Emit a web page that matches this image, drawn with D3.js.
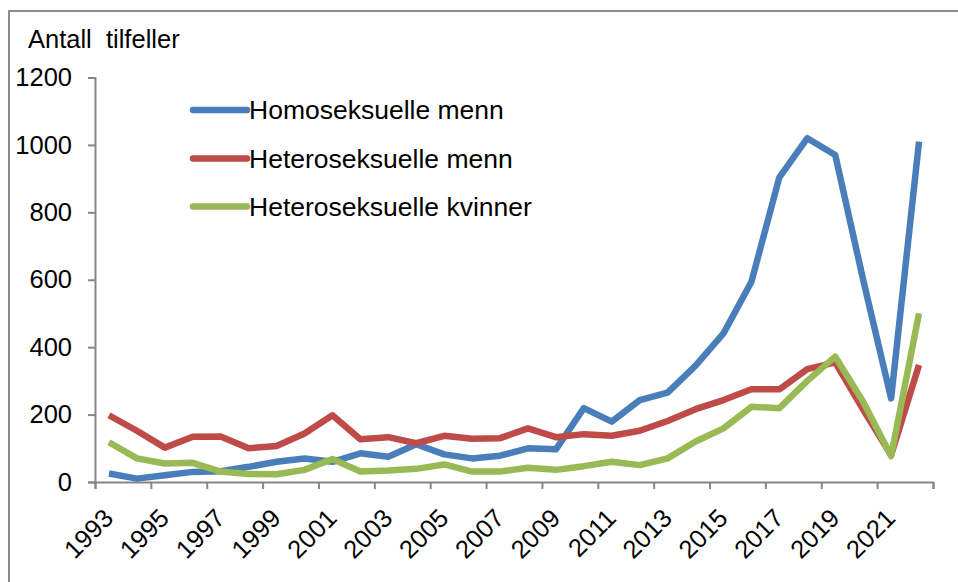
<!DOCTYPE html>
<html><head><meta charset="utf-8">
<script src="https://cdn.jsdelivr.net/npm/d3@7"></script>
<style>
html,body{margin:0;padding:0;background:#fff;}
svg{display:block;font-family:"Liberation Sans",Arial,sans-serif;}
</style></head>
<body>
<svg id="chart" width="958" height="582"></svg>
<script>
const years = d3.range(1993, 2023);
const labelYears = [1993,1995,1997,1999,2001,2003,2005,2007,2009,2011,2013,2015,2017,2019,2021];
const yTicks = [0,200,400,600,800,1000,1200];
const seriesNames = ["Homoseksuelle menn","Heteroseksuelle menn","Heteroseksuelle kvinner"];
const colors = ["#4A7EBB","#BE4B48","#98B954"];
const homoMenn =   [25,10,20,30,32,45,60,70,60,85,75,112,82,70,78,100,97,219,179,243,265,345,441,594,904,1020,970,600,248,1010];
const heteroMenn = [198,152,102,134,135,100,107,144,198,127,133,115,137,128,130,159,133,142,137,152,181,216,243,275,275,335,355,215,80,347];
const heteroKv =   [118,70,55,57,31,24,23,36,68,31,34,39,52,31,31,42,36,47,60,50,70,120,159,223,219,300,372,238,77,500];
const seriesData = [homoMenn, heteroMenn, heteroKv];

const svg = d3.select("#chart");
const mLeft = 95, mRight = 933, mTop = 77.5, mBottom = 482;

// outer frame
svg.append("rect").attr("x",9).attr("y",11).attr("width",980).attr("height",600)
  .attr("fill","none").attr("stroke","#8c8c8c").attr("stroke-width",2);

const x = d3.scaleBand().domain(years).range([mLeft, mRight]).paddingInner(0).paddingOuter(0);
const xi = d3.scaleLinear().domain([0, years.length]).range([mLeft, mRight]);
const y = d3.scaleLinear().domain([0,1200]).range([mBottom, mTop]);

// y axis
const yAxis = svg.append("g").attr("transform",`translate(${mLeft},0)`)
  .call(d3.axisLeft(y).tickValues(yTicks).tickSize(7).tickPadding(16).tickFormat(d3.format("d")));
yAxis.select(".domain").attr("stroke","#868686").attr("stroke-width",2);
yAxis.selectAll(".tick line").attr("stroke","#868686").attr("stroke-width",2);
yAxis.selectAll(".tick text").attr("font-size",25.5).attr("fill","#000")
  .attr("font-family","Liberation Sans, Arial, sans-serif");

// x axis tick marks (every 2 categories on boundaries)
const xAxisTicks = svg.append("g").attr("transform",`translate(0,${mBottom})`)
  .call(d3.axisBottom(xi).tickValues(d3.range(0, years.length+1, 2)).tickSize(7).tickFormat(""));
xAxisTicks.select(".domain").attr("stroke","#868686").attr("stroke-width",2);
xAxisTicks.selectAll(".tick line").attr("stroke","#868686").attr("stroke-width",2);

// x labels
const xLab = svg.append("g").attr("transform",`translate(0,${mBottom})`)
  .call(d3.axisBottom(x).tickValues(labelYears).tickSize(0));
xLab.select(".domain").remove();
xLab.selectAll(".tick text")
  .attr("font-size",25.5).attr("fill","#000").attr("font-family","Liberation Sans, Arial, sans-serif")
  .attr("text-anchor","end").attr("x",0).attr("y",0).attr("dy","0.71em")
  .attr("transform","translate(-7,25) rotate(-45)");

// title
svg.append("text").attr("x",28).attr("y",47.5).attr("font-size",25.5).attr("fill","#000")
  .attr("xml:space","preserve").text("Antall  tilfeller");

// lines
const line = d3.line().x((d,i)=>x(years[i]) + x.bandwidth()/2).y(d=>y(d));
seriesData.forEach((s,k)=>{
  svg.append("path").datum(s).attr("d",line).attr("fill","none")
    .attr("stroke",colors[k]).attr("stroke-width",6.5)
    .attr("stroke-linejoin","round").attr("stroke-linecap","butt");
});

// legend
const legY = [110,158.5,206.5];
seriesNames.forEach((n,k)=>{
  svg.append("line").attr("x1",193).attr("x2",247).attr("y1",legY[k]).attr("y2",legY[k])
    .attr("stroke",colors[k]).attr("stroke-width",6.5).attr("stroke-linecap","round");
  svg.append("text").attr("x",249).attr("y",legY[k]+9.3).attr("font-size",26.5).attr("fill","#000").text(n);
});
</script>
</body></html>
